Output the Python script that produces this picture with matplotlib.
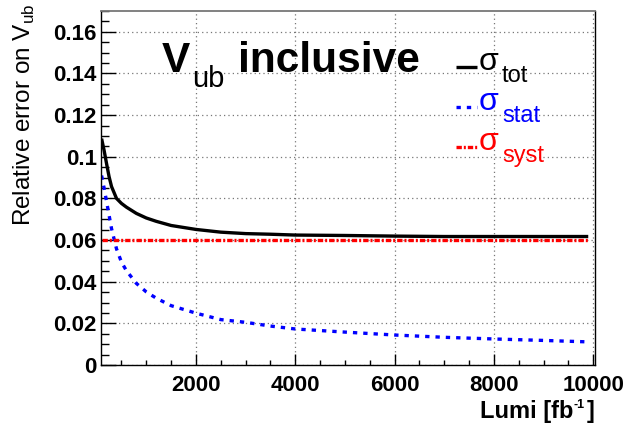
import matplotlib
matplotlib.use('Agg')

import matplotlib.pyplot as plt
from matplotlib.lines import Line2D
from matplotlib.ticker import MultipleLocator, FuncFormatter

plt.rcParams['font.family'] = ['Liberation Sans', 'DejaVu Sans']
plt.rcParams['mathtext.fontset'] = 'custom'
plt.rcParams['mathtext.rm'] = 'Liberation Sans'
plt.rcParams['mathtext.bf'] = 'Liberation Sans:bold'

# integrated luminosity [fb^-1] and relative errors on |Vub|
lumi = [100, 150, 200, 250, 300, 400, 500, 600, 800, 1000, 1200, 1500, 2000,
        2500, 3000, 3500, 4000, 5000, 6000, 7000, 8000, 9000, 9900]
sigma_stat = [0.091, 0.085, 0.0785, 0.072, 0.0655, 0.0558, 0.0494, 0.0453,
              0.0392, 0.0351, 0.0321, 0.0285, 0.0249, 0.0218, 0.0205, 0.0187,
              0.0173, 0.0158, 0.0144, 0.0133, 0.0125, 0.0118, 0.0111]
sigma_tot = [0.1087, 0.1031, 0.0967, 0.0905, 0.0857, 0.0800, 0.0776, 0.0758,
             0.0728, 0.0706, 0.0690, 0.0670, 0.0651, 0.0638, 0.0631, 0.0628,
             0.0624, 0.0622, 0.0619, 0.0617, 0.0617, 0.0617, 0.0617]
sigma_syst = [0.06] * len(lumi)

W, H = 630, 424
fig = plt.figure(figsize=(W / 100, H / 100), dpi=100)
ax = fig.add_axes([101 / W, 1 - 365 / H, 494 / W, 354 / H])

stat_ls = (0, (1.3, 1.8))
syst_ls = (0, (1.6, 0.6, 0.6, 0.6))

ax.plot(lumi, sigma_tot, color='black', lw=2.4, solid_capstyle='butt')
ax.plot(lumi, sigma_stat, color='blue', lw=2.4, linestyle=stat_ls,
        dash_capstyle='butt')
ax.plot(lumi, sigma_syst, color='red', lw=2.4, linestyle=syst_ls,
        dash_capstyle='butt')

ax.set_xlim(88, 10036)
ax.set_ylim(0, 0.17)

ax.xaxis.set_major_locator(MultipleLocator(2000))
ax.xaxis.set_minor_locator(MultipleLocator(500))
ax.yaxis.set_major_locator(MultipleLocator(0.02))
ax.yaxis.set_minor_locator(MultipleLocator(0.005))
ax.yaxis.set_major_formatter(FuncFormatter(lambda v, p: f'{v:g}'))
ax.xaxis.set_major_formatter(FuncFormatter(lambda v, p: f'{v:g}'))

ax.tick_params(axis='both', which='both', direction='in', top=False, right=False,
               labelsize=16, width=1, color='black')
ax.tick_params(axis='y', which='major', length=10.8, pad=3)
ax.tick_params(axis='y', which='minor', length=5.4)
ax.tick_params(axis='x', which='major', length=7.6, pad=7)
ax.tick_params(axis='x', which='minor', length=3.8)
for lab in ax.get_xticklabels() + ax.get_yticklabels():
    lab.set_fontweight('bold')

ax.grid(True, which='major', color='#777777', lw=0.9, linestyle=(0, (1, 2.5)))
ax.set_axisbelow(True)
for side in ['left', 'bottom', 'right']:
    ax.spines[side].set_color('black')
    ax.spines[side].set_linewidth(1)
ax.spines['top'].set_color('#777777')
ax.spines['top'].set_linewidth(1.3)

# x axis title, with the small raised "-1"
fig.text(573 / W, 1 - 418 / H, 'Lumi [fb', fontsize=17, fontweight='bold',
         ha='right', va='baseline')
fig.text(574 / W, 1 - 408 / H, '-1', fontsize=9, fontweight='bold',
         ha='left', va='baseline')
fig.text(587 / W, 1 - 418 / H, ']', fontsize=17, fontweight='bold',
         ha='left', va='baseline')

# y axis title
fig.text(24 / W, 1 - 3 / H, r'Relative error on V$_{\mathrm{ub}}$', fontsize=17.5,
         rotation=90, ha='center', va='top')

# title
fig.text(162 / W, 1 - 72 / H, 'V', fontsize=30.5, fontweight='bold', va='baseline')
fig.text(192 / W, 1 - 87 / H, 'ub', fontsize=21, va='baseline')
fig.text(238 / W, 1 - 72 / H, 'inclusive', fontsize=30.5, fontweight='bold',
         va='baseline')

# legend
entries = [('tot', 'black', '-', 67, 70, 81.7),
           ('stat', 'blue', stat_ls, 107, 110, 121.7),
           ('syst', 'red', syst_ls, 147, 150, 161.7)]
for sub, col, ls, yl, ys, yb in entries:
    fig.add_artist(Line2D([456 / W, 477 / W], [1 - yl / H, 1 - yl / H],
                          color=col, lw=2.4, linestyle=ls,
                          solid_capstyle='butt', dash_capstyle='butt'))
    fig.text(479 / W, 1 - ys / H, '\u03c3', fontsize=23, color=col, va='baseline')
    fig.text(502 / W, 1 - yb / H, sub, fontsize=17, color=col, va='baseline')

fig.savefig('out.png', dpi=100)
